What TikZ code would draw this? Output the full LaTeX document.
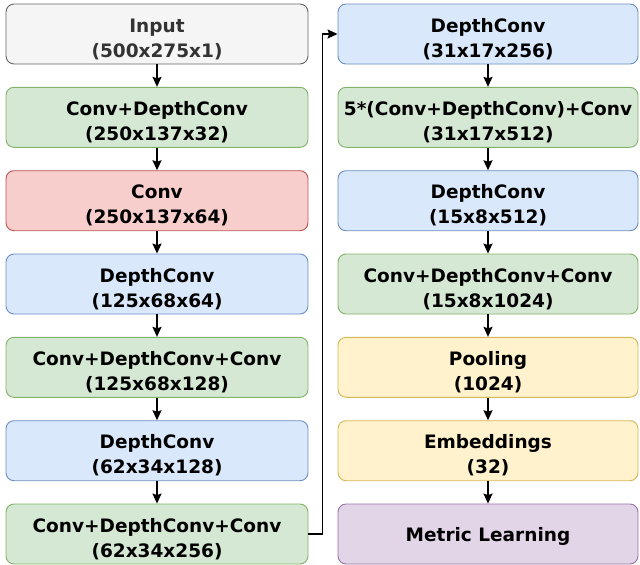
\documentclass[tikz,border=0pt]{standalone}
\usepackage{fontspec}
\setmainfont{DejaVu Sans}
\usetikzlibrary{arrows.meta}
\definecolor{gfill}{HTML}{F5F5F5}\definecolor{gdraw}{HTML}{666666}
\definecolor{grfill}{HTML}{D5E8D4}\definecolor{grdraw}{HTML}{82B366}
\definecolor{rfill}{HTML}{F8CECC}\definecolor{rdraw}{HTML}{B85450}
\definecolor{bfill}{HTML}{DAE8FC}\definecolor{bdraw}{HTML}{6C8EBF}
\definecolor{yfill}{HTML}{FFF2CC}\definecolor{ydraw}{HTML}{D6B656}
\definecolor{pfill}{HTML}{E1D5E7}\definecolor{pdraw}{HTML}{9673A6}
\definecolor{itext}{HTML}{333333}
\newcommand{\tl}[2]{\rule{0pt}{24pt}#1\\#2}
\tikzset{
  box/.style={draw, rounded corners=8pt, line width=0.9pt, minimum height=60pt,
    align=center, font=\fontsize{18.5}{25}\selectfont\bfseries, inner sep=0pt},
  lbox/.style={box, minimum width=302pt},
  rbox/.style={box, minimum width=300pt},
  grey/.style={fill=gfill, draw=gdraw, text=itext},
  green/.style={fill=grfill, draw=grdraw},
  red/.style={fill=rfill, draw=rdraw},
  blue/.style={fill=bfill, draw=bdraw},
  yellow/.style={fill=yfill, draw=ydraw},
  purple/.style={fill=pfill, draw=pdraw},
  conn/.style={line width=1.5pt, -{Stealth[length=10pt,width=9pt,inset=1.5pt]}}
}
\begin{document}
\begin{tikzpicture}[x=1pt,y=-1pt]
\useasboundingbox (0,0) rectangle (640,565);
\def\lx{157}\def\rx{488}
\node[lbox,grey] (l0) at (\lx,34) {\tl{Input}{(500x275x1)}};
\node[lbox,green] (l1) at (\lx,117.3) {\tl{Conv+DepthConv}{(250x137x32)}};
\node[lbox,red] (l2) at (\lx,200.7) {\tl{Conv}{(250x137x64)}};
\node[lbox,blue] (l3) at (\lx,284) {\tl{DepthConv}{(125x68x64)}};
\node[lbox,green] (l4) at (\lx,367.3) {\tl{Conv+DepthConv+Conv}{(125x68x128)}};
\node[lbox,blue] (l5) at (\lx,450.7) {\tl{DepthConv}{(62x34x128)}};
\node[lbox,green] (l6) at (\lx,534) {\tl{Conv+DepthConv+Conv}{(62x34x256)}};
\node[rbox,blue] (r0) at (\rx,34) {\tl{DepthConv}{(31x17x256)}};
\node[rbox,green] (r1) at (\rx,117.3) {\tl{5*(Conv+DepthConv)+Conv}{(31x17x512)}};
\node[rbox,blue] (r2) at (\rx,200.7) {\tl{DepthConv}{(15x8x512)}};
\node[rbox,green] (r3) at (\rx,284) {\tl{Conv+DepthConv+Conv}{(15x8x1024)}};
\node[rbox,yellow] (r4) at (\rx,367.3) {\tl{Pooling}{(1024)}};
\node[rbox,yellow] (r5) at (\rx,450.7) {\tl{Embeddings}{(32)}};
\node[rbox,purple] (r6) at (\rx,534) {\rule{0pt}{19pt}Metric Learning};
\foreach \a/\b in {0/1,1/2,2/3,3/4,4/5,5/6}{
  \draw[conn] (l\a) -- (l\b);
  \draw[conn] (r\a) -- (r\b);
}
\coordinate (k) at (322.5,0);
\draw[conn] (l6.east) -| (k |- r0.west) -- (r0.west);
\end{tikzpicture}
\end{document}
